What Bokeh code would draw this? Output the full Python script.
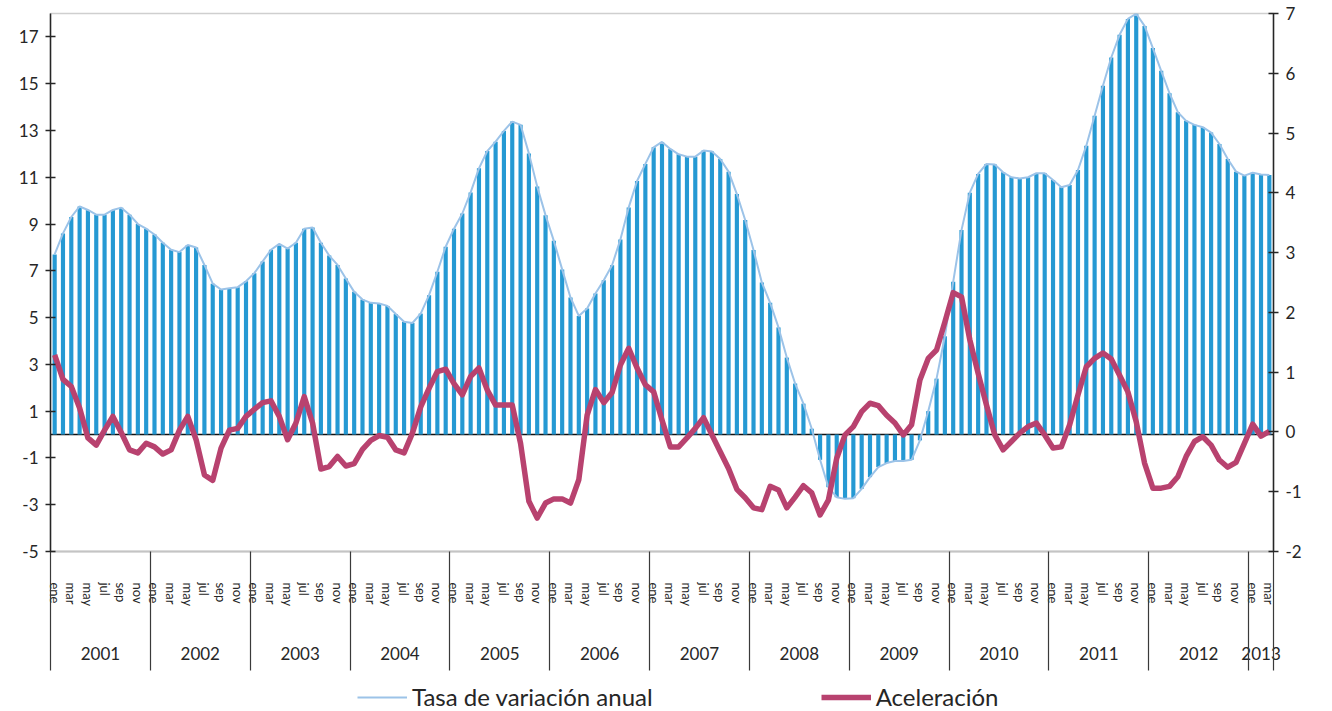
from bokeh.plotting import figure
from bokeh.layouts import column
from bokeh.models import Range1d, LinearAxis, FixedTicker, Legend, LegendItem, Span
from bokeh.embed import file_html
from bokeh.resources import INLINE

# ---------------- data ----------------
years = [2001, 2002, 2003, 2004, 2005, 2006, 2007, 2008, 2009, 2010, 2011, 2012, 2013]
month_labels = ["ene", "feb", "mar", "abr", "may", "jun", "jul", "ago", "sep", "oct", "nov", "dic"]

tasa_2001 = [7.7, 8.6, 9.3, 9.75, 9.6, 9.4, 9.4, 9.6, 9.7, 9.4, 9.0, 8.8]
tasa_2002 = [8.55, 8.2, 7.9, 7.8, 8.1, 8.0, 7.25, 6.45, 6.2, 6.25, 6.3, 6.55]
tasa_2003 = [6.9, 7.4, 7.9, 8.15, 7.95, 8.2, 8.8, 8.85, 8.2, 7.65, 7.25, 6.67]
tasa_2004 = [6.1, 5.77, 5.63, 5.6, 5.5, 5.15, 4.82, 4.77, 5.17, 5.96, 6.96, 8.03]
tasa_2005 = [8.8, 9.45, 10.35, 11.38, 12.12, 12.52, 12.98, 13.38, 13.24, 12.02, 10.6, 9.38]
tasa_2006 = [8.28, 7.06, 5.86, 5.07, 5.39, 6.03, 6.6, 7.24, 8.34, 9.71, 10.84, 11.57]
tasa_2007 = [12.28, 12.51, 12.21, 11.98, 11.88, 11.88, 12.14, 12.10, 11.78, 11.24, 10.28, 9.17]
tasa_2008 = [7.89, 6.5, 5.63, 4.58, 3.29, 2.18, 1.32, 0.25, -1.08, -2.25, -2.68, -2.75]
tasa_2009 = [-2.72, -2.32, -1.82, -1.39, -1.22, -1.13, -1.13, -1.08, -0.25, 1.0, 2.39, 4.2]
tasa_2010 = [6.53, 8.74, 10.34, 11.14, 11.57, 11.54, 11.21, 11.0, 10.95, 11.0, 11.17, 11.17]
tasa_2011 = [10.88, 10.57, 10.67, 11.31, 12.35, 13.63, 14.91, 16.12, 17.09, 17.77, 17.99, 17.47]
tasa_2012 = [16.52, 15.55, 14.59, 13.78, 13.41, 13.24, 13.14, 12.91, 12.42, 11.78, 11.24, 11.07]
tasa_2013 = [11.19, 11.12, 11.10]

acel_2001 = [1.29, 0.88, 0.76, 0.40, -0.10, -0.22, 0.03, 0.26, -0.01, -0.30, -0.35, -0.19]
acel_2002 = [-0.25, -0.37, -0.30, 0.03, 0.26, -0.13, -0.72, -0.81, -0.27, 0.03, 0.06, 0.26]
acel_2003 = [0.38, 0.49, 0.52, 0.26, -0.13, 0.15, 0.59, 0.15, -0.62, -0.58, -0.41, -0.57]
acel_2004 = [-0.53, -0.29, -0.14, -0.06, -0.09, -0.30, -0.35, -0.02, 0.42, 0.73, 1.01, 1.05]
acel_2005 = [0.81, 0.62, 0.93, 1.07, 0.70, 0.45, 0.45, 0.45, -0.19, -1.16, -1.44, -1.19]
acel_2006 = [-1.12, -1.12, -1.19, -0.80, 0.28, 0.71, 0.49, 0.66, 1.12, 1.40, 1.07, 0.79]
acel_2007 = [0.67, 0.20, -0.25, -0.25, -0.10, 0.06, 0.24, -0.05, -0.33, -0.61, -0.96, -1.10]
acel_2008 = [-1.27, -1.30, -0.91, -0.97, -1.27, -1.09, -0.90, -1.02, -1.39, -1.14, -0.44, -0.05]
acel_2009 = [0.09, 0.34, 0.48, 0.44, 0.28, 0.15, -0.05, 0.12, 0.87, 1.23, 1.37, 1.84]
acel_2010 = [2.33, 2.26, 1.54, 0.98, 0.45, -0.05, -0.30, -0.16, -0.02, 0.09, 0.15, -0.05]
acel_2011 = [-0.27, -0.25, 0.12, 0.62, 1.09, 1.23, 1.32, 1.22, 0.95, 0.67, 0.17, -0.52]
acel_2012 = [-0.94, -0.94, -0.91, -0.75, -0.41, -0.16, -0.08, -0.22, -0.47, -0.59, -0.51, -0.19]
acel_2013 = [0.13, -0.07, 0.01]

left_ticks = [-5, -3, -1, 1, 3, 5, 7, 9, 11, 13, 15, 17]
right_ticks = [-2, -1, 0, 1, 2, 3, 4, 5, 6, 7]

tasa = (tasa_2001 + tasa_2002 + tasa_2003 + tasa_2004 + tasa_2005 + tasa_2006 + tasa_2007
        + tasa_2008 + tasa_2009 + tasa_2010 + tasa_2011 + tasa_2012 + tasa_2013)
acel = (acel_2001 + acel_2002 + acel_2003 + acel_2004 + acel_2005 + acel_2006 + acel_2007
        + acel_2008 + acel_2009 + acel_2010 + acel_2011 + acel_2012 + acel_2013)

# ---------------- styling ----------------
FONT = "Lato"
TXT = "#262626"
BAR = "#2599d3"
LINE = "#9cc3e8"
ACC = "#b8426f"

n = len(tasa)
xs = [i + 0.5 for i in range(n)]

p = figure(width=1332, height=680, output_backend="svg", toolbar_location=None,
           x_range=Range1d(0, n), y_range=Range1d(-5, 18),
           x_axis_location=None, y_axis_location=None,
           min_border_left=50, min_border_right=59, min_border_top=13, min_border_bottom=129)
p.extra_y_ranges = {"acc": Range1d(-2, 7)}
p.grid.visible = False
p.outline_line_color = "#cfcfcf"
p.outline_line_width = 1.5
p.background_fill_color = "white"
p.border_fill_color = "white"

# zero line under bars
p.add_layout(Span(location=0, dimension="width", line_color="#111111", line_width=1.6, level="underlay"))

p.vbar(x=xs, top=tasa, bottom=0, width=0.5, fill_color=BAR, line_color=None)
lr = p.line(xs, tasa, line_color=LINE, line_width=2)
ar = p.line(xs, acel, y_range_name="acc", line_color=ACC, line_width=5.5, line_join="round")

# left axis
yl = LinearAxis(ticker=FixedTicker(ticks=left_ticks))
yl.major_label_overrides = {t: str(t) for t in left_ticks}
# right axis
yr = LinearAxis(ticker=FixedTicker(ticks=right_ticks), y_range_name="acc")
yr.major_label_overrides = {t: str(t) for t in right_ticks}
for ax in (yl, yr):
    ax.major_tick_in = 5
    ax.major_tick_out = 5
    ax.minor_tick_line_color = None
    ax.axis_line_color = TXT
    ax.axis_line_width = 1.5
    ax.major_tick_line_color = TXT
    ax.major_tick_line_width = 1.5
    ax.major_label_text_font = FONT
    ax.major_label_text_font_size = "17px"
    ax.major_label_text_color = TXT
    ax.major_label_standoff = 7
p.add_layout(yl, "left")
p.add_layout(yr, "right")

# month labels axis
month_ticks = []
month_over = {}
for yi, yr_ in enumerate(years):
    nm = 12 if yi < len(years) - 1 else len(tasa_2013)
    for m in range(0, nm, 2):
        t = yi * 12 + m + 0.5
        month_ticks.append(t)
        month_over[t] = month_labels[m]
year_bounds = [yi * 12 for yi in range(len(years))] + [n]

xm = LinearAxis(ticker=FixedTicker(ticks=month_ticks))
xm.major_label_overrides = month_over
xm.major_tick_in = 0
xm.major_tick_out = 0
xm.major_tick_line_color = None
xm.minor_tick_line_color = None
xm.axis_line_color = "#c4c4c4"
xm.axis_line_width = 2
xm.major_label_orientation = "vertical"
xm.major_label_text_font = FONT
xm.major_label_text_font_size = "13px"
xm.major_label_text_color = TXT
xm.major_label_standoff = 31
p.add_layout(xm, "below")

# year labels axis
year_ticks = []
year_over = {}
for yi, yr_ in enumerate(years):
    nm = 12 if yi < len(years) - 1 else len(tasa_2013)
    t = yi * 12 + nm / 2 + 0.001
    year_ticks.append(t)
    year_over[t] = str(yr_)
xy = LinearAxis(ticker=FixedTicker(ticks=year_ticks))
xy.major_label_overrides = year_over
xy.axis_line_color = None
xy.major_tick_line_color = None
xy.minor_tick_line_color = None
xy.major_label_text_font = FONT
xy.major_label_text_font_size = "17px"
xy.major_label_text_color = TXT
xy.major_label_standoff = 31
p.add_layout(xy, "below")

# year separators (ticks pointing up to the frame)
xs_ax = LinearAxis(ticker=FixedTicker(ticks=year_bounds))
xs_ax.major_label_overrides = {b: "" for b in year_bounds}
xs_ax.major_label_text_font_size = "1px"
xs_ax.major_label_text_color = None
xs_ax.major_label_standoff = 0
xs_ax.axis_line_color = None
xs_ax.minor_tick_line_color = None
xs_ax.major_tick_line_color = "#3a3a3a"
xs_ax.major_tick_line_width = 1.2
xs_ax.major_tick_out = 8
xs_ax.major_tick_in = 111
p.add_layout(xs_ax, "below")

# ---------------- legend strip (same series, kept out of view) ----------------
q = figure(width=1332, height=31, output_backend="svg", toolbar_location=None,
           x_range=Range1d(0, n), y_range=Range1d(1000, 1001),
           x_axis_location=None, y_axis_location=None, min_border=0)
q.grid.visible = False
q.outline_line_color = None
q_lr = q.line(xs, tasa, line_color=LINE, line_width=2)
q_ar = q.line(xs, acel, line_color=ACC, line_width=5.5)
legend = Legend(items=[LegendItem(label="Tasa de variación anual", renderers=[q_lr]),
                       LegendItem(label="Aceleración", renderers=[q_ar])],
                orientation="horizontal", location=(307, 0),
                glyph_width=50, glyph_height=20, label_standoff=5, spacing=168,
                label_text_font=FONT, label_text_font_size="24px", label_text_color=TXT,
                border_line_color=None, background_fill_alpha=0, padding=0, margin=0)
q.add_layout(legend)

layout = column(p, q, spacing=0)
open("out.html", "w").write(file_html(layout, INLINE))
